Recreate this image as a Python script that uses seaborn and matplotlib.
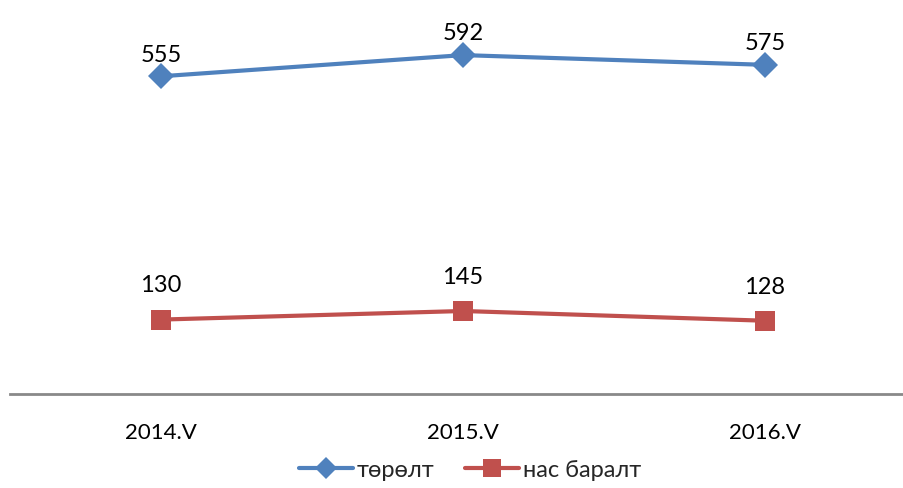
import matplotlib
matplotlib.use("Agg")
import matplotlib.pyplot as plt
import seaborn as sns
import pandas as pd
from matplotlib.lines import Line2D

categories = ["2014.V", "2015.V", "2016.V"]
births = [555, 592, 575]
deaths = [130, 145, 128]
series_names = ["төрөлт", "нас баралт"]

sns.set_theme(style="white")
plt.rcParams['font.family'] = ['Lato', 'DejaVu Sans']

blue = "#4F81BD"
red = "#C0504D"

df = pd.DataFrame({
    "x": list(range(len(categories))) * 2,
    "value": births + deaths,
    "series": [series_names[0]] * 3 + [series_names[1]] * 3,
})

W, H = 904, 489
fig = plt.figure(figsize=(W / 100, H / 100), dpi=100)
ax = fig.add_axes([10 / W, (H - 395) / H, 906 / W, 395 / H])

sns.lineplot(data=df, x="x", y="value", hue="series", style="series",
             palette=[blue, red], markers=["D", "s"], dashes=False,
             markersize=13, linewidth=3, markeredgewidth=0, ax=ax, legend=False)
for ln in ax.get_lines():
    if ln.get_marker() == "s":
        ln.set_markersize(14)

ax.set_xlim(-0.5, 2.5)
ax.set_ylim(0, 690)
ax.set_xticks(range(len(categories)))
ax.set_xticklabels(categories, fontsize=16, color="#000000")
ax.tick_params(axis="x", length=0, pad=20)
ax.set_yticks([])
ax.set_xlabel("")
ax.set_ylabel("")
for s in ["top", "right", "left"]:
    ax.spines[s].set_visible(False)
ax.spines["bottom"].set_color("#898989")
ax.spines["bottom"].set_linewidth(2)

for i, v in enumerate(births):
    ax.annotate(str(v), (i, v), xytext=(0, 16), textcoords="offset points",
                ha="center", va="center", fontsize=17, color="#000000")
for i, v in enumerate(deaths):
    ax.annotate(str(v), (i, v), xytext=(0, 25), textcoords="offset points",
                ha="center", va="center", fontsize=17, color="#000000")

handles = [
    Line2D([], [], color=blue, lw=3, marker="D", markersize=11, markeredgewidth=0),
    Line2D([], [], color=red, lw=3, marker="s", markersize=13, markeredgewidth=0),
]
fig.legend(handles, series_names, loc="center", bbox_to_anchor=(470 / W, 1 - 471 / H),
           ncol=2, frameon=False, fontsize=17, handlelength=2.3, handletextpad=0.15,
           columnspacing=1.3)

fig.savefig("out.png", dpi=100)
